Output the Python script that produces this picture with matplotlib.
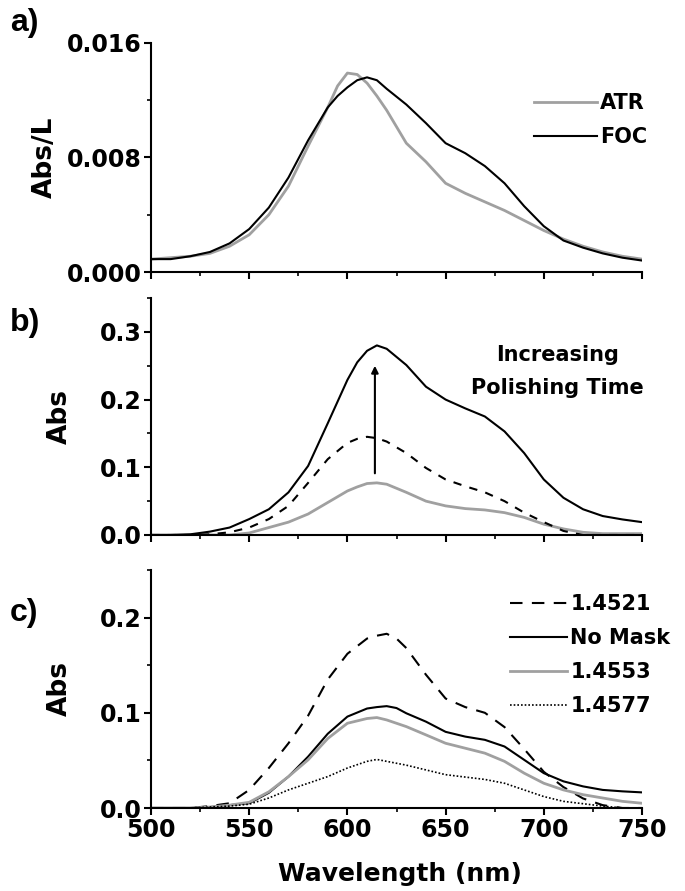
import matplotlib
matplotlib.use("Agg")
import matplotlib.pyplot as plt
from matplotlib.ticker import MultipleLocator

plt.rcParams['font.family'] = ['DejaVu Sans']
plt.rcParams['font.weight'] = 'bold'
plt.rcParams['axes.labelweight'] = 'bold'

# panel a) Abs/L, ATR vs FOC
wl_a = [500, 510, 520, 530, 540, 550, 560, 570, 580, 590, 595, 600, 605, 610, 615, 620,
        630, 640, 650, 660, 670, 680, 690, 700, 710, 720, 730, 740, 750]
atr = [0.0009, 0.0010, 0.0011, 0.0013, 0.0018, 0.0026, 0.0040, 0.0060, 0.0088, 0.0115, 0.0130,
       0.0139, 0.0138, 0.0132, 0.0123, 0.0113, 0.0090, 0.0077, 0.0062, 0.0055, 0.0049, 0.0043,
       0.0036, 0.0029, 0.0023, 0.0018, 0.0014, 0.0011, 0.0009]
foc = [0.0009, 0.0009, 0.0011, 0.0014, 0.0020, 0.0030, 0.0045, 0.0066, 0.0092, 0.0115, 0.0123,
       0.0129, 0.0134, 0.0136, 0.0134, 0.0128, 0.0117, 0.0104, 0.0090, 0.0083, 0.0074, 0.0062,
       0.0046, 0.0032, 0.0022, 0.0017, 0.0013, 0.0010, 0.0008]

# panel b) increasing polishing time
wl_b = [500, 510, 520, 530, 540, 550, 560, 570, 580, 590, 600, 605, 610, 615, 620, 630, 640,
        650, 660, 670, 680, 690, 700, 710, 720, 730, 740, 750]
pol_long = [0.0, 0.0, 0.001, 0.005, 0.011, 0.0235, 0.038, 0.063, 0.102, 0.165, 0.229, 0.255,
            0.272, 0.280, 0.275, 0.251, 0.219, 0.200, 0.187, 0.175, 0.153, 0.121, 0.082, 0.055,
            0.038, 0.028, 0.023, 0.019]
pol_mid = [0.0, 0.0, 0.0, 0.001, 0.004, 0.011, 0.0235, 0.043, 0.077, 0.112, 0.136, 0.142,
           0.145, 0.143, 0.138, 0.121, 0.099, 0.082, 0.072, 0.063, 0.050, 0.033, 0.019, 0.006,
           0.0, 0.0, 0.0, 0.0]
pol_short = [0.0, 0.0, 0.0, 0.0, 0.0, 0.003, 0.011, 0.019, 0.031, 0.048, 0.065, 0.071, 0.076,
             0.077, 0.075, 0.063, 0.050, 0.043, 0.039, 0.037, 0.033, 0.026, 0.016, 0.009,
             0.004, 0.002, 0.002, 0.002]

# panel c) mask index
wl_c = [500, 510, 520, 530, 540, 550, 560, 570, 580, 590, 600, 610, 615, 620, 625, 630, 640,
        650, 660, 670, 680, 690, 700, 710, 720, 730, 740, 750]
m4521 = [0.0, 0.0, 0.0, 0.002, 0.005, 0.019, 0.042, 0.068, 0.097, 0.135, 0.162, 0.178, 0.181,
         0.183, 0.178, 0.168, 0.140, 0.115, 0.106, 0.100, 0.085, 0.062, 0.038, 0.022, 0.010,
         0.003, 0.0, 0.0]
nomask = [0.0, 0.0, 0.0, 0.001, 0.003, 0.005, 0.016, 0.033, 0.054, 0.078, 0.096, 0.1045, 0.106,
          0.107, 0.105, 0.0995, 0.0907, 0.080, 0.075, 0.0716, 0.0646, 0.0506, 0.0366, 0.028,
          0.0227, 0.019, 0.0175, 0.0164]
m4553 = [0.0, 0.0, 0.0, 0.001, 0.003, 0.006, 0.017, 0.033, 0.0506, 0.073, 0.089, 0.094, 0.095,
         0.0925, 0.089, 0.0855, 0.0768, 0.068, 0.0628, 0.0576, 0.049, 0.0366, 0.026, 0.019,
         0.014, 0.0105, 0.007, 0.005]
m4577 = [0.0, 0.0, 0.0, 0.001, 0.002, 0.004, 0.0105, 0.019, 0.026, 0.033, 0.042, 0.049, 0.051,
         0.049, 0.047, 0.045, 0.040, 0.035, 0.0325, 0.030, 0.026, 0.019, 0.012, 0.007, 0.0045,
         0.002, 0.0, 0.0]

GRAY = '#a0a0a0'
fig = plt.figure(figsize=(6.85, 8.91), dpi=100)

L, W = 151/685, (642-151)/685
ax_a = fig.add_axes([L, 1-272/891, W, (272-43)/891])
ax_b = fig.add_axes([L, 1-535/891, W, (535-298)/891])
ax_c = fig.add_axes([L, 1-808/891, W, (808-570)/891])

leg_kw = dict(loc='upper left', frameon=False, fontsize=15, borderpad=0, borderaxespad=0,
              handletextpad=0.15, labelspacing=0.68)

ax_a.plot(wl_a, atr, color=GRAY, lw=2, label='ATR')
ax_a.plot(wl_a, foc, color='black', lw=1.5, label='FOC')
ax_a.set_ylim(0, 0.016)
ax_a.set_yticks([0, 0.008, 0.016])
ax_a.set_yticklabels(['0.000', '0.008', '0.016'])
ax_a.yaxis.set_minor_locator(MultipleLocator(0.004))
ax_a.set_ylabel('Abs/L', fontsize=19)
ax_a.yaxis.set_label_coords(-0.19, 0.5)
ax_a.legend(bbox_to_anchor=(534/685, 1-93/891), bbox_transform=fig.transFigure,
            handlelength=3.0, **leg_kw)

ax_b.plot(wl_b, pol_short, color=GRAY, lw=2)
ax_b.plot(wl_b, pol_mid, color='black', lw=1.5, dashes=(4, 4))
ax_b.plot(wl_b, pol_long, color='black', lw=1.5)
ax_b.set_ylim(0, 0.35)
ax_b.yaxis.set_major_locator(MultipleLocator(0.1))
ax_b.yaxis.set_minor_locator(MultipleLocator(0.05))
ax_b.set_ylabel('Abs', fontsize=19)
ax_b.yaxis.set_label_coords(-0.16, 0.5)
ax_b.annotate('', xy=(614, 0.254), xytext=(614, 0.087),
              arrowprops=dict(arrowstyle='-|>', color='black', lw=1.5, mutation_scale=10))
ax_b.text(707, 0.266, 'Increasing', ha='center', va='center', fontsize=15)
ax_b.text(707, 0.217, 'Polishing Time', ha='center', va='center', fontsize=15)

ax_c.plot(wl_c, m4521, color='black', lw=1.5, dashes=(6, 4.5), label='1.4521')
ax_c.plot(wl_c, nomask, color='black', lw=1.5, label='No Mask')
ax_c.plot(wl_c, m4553, color=GRAY, lw=2, label='1.4553')
ax_c.plot(wl_c, m4577, color='black', lw=1.2, dashes=(1, 1.2), label='1.4577')
ax_c.set_ylim(0, 0.25)
ax_c.yaxis.set_major_locator(MultipleLocator(0.1))
ax_c.yaxis.set_minor_locator(MultipleLocator(0.05))
ax_c.set_ylabel('Abs', fontsize=19)
ax_c.yaxis.set_label_coords(-0.16, 0.5)
ax_c.set_xlabel('Wavelength (nm)', fontsize=18)
ax_c.xaxis.set_label_coords(0.508, -0.225)
ax_c.legend(bbox_to_anchor=(510/685, 1-594/891), bbox_transform=fig.transFigure,
            handlelength=2.75, **leg_kw)

for ax in (ax_a, ax_b, ax_c):
    ax.set_xlim(500, 750)
    ax.xaxis.set_major_locator(MultipleLocator(50))
    ax.xaxis.set_minor_locator(MultipleLocator(25))
    ax.spines['top'].set_visible(False)
    ax.spines['right'].set_visible(False)
    ax.spines['left'].set_linewidth(1.5)
    ax.spines['bottom'].set_linewidth(1.5)
    ax.tick_params(which='major', direction='out', length=5, width=1.5, labelsize=17, pad=2)
    ax.tick_params(which='minor', direction='out', length=3, width=1.2)
    if ax is not ax_c:
        ax.tick_params(axis='x', labelbottom=False)

for lab, ytop in (('a)', 8), ('b)', 308), ('c)', 598)):
    fig.text(10/685, 1-ytop/891, lab, fontsize=23, va='top', ha='left',
             family='Liberation Sans', weight='bold')

fig.savefig('out.png', dpi=100)
